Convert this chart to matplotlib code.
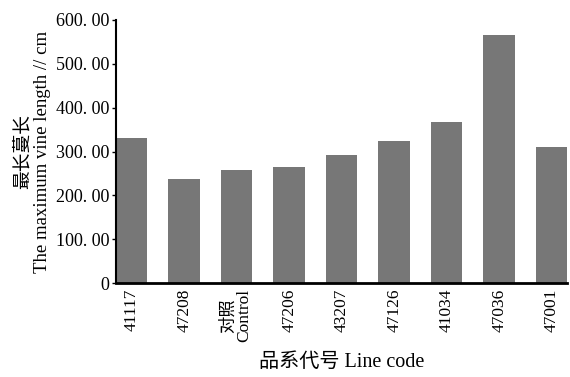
import matplotlib
matplotlib.use('Agg')
import matplotlib.pyplot as plt

plt.rcParams['font.family'] = ['Liberation Serif', 'Noto Sans CJK SC', 'DejaVu Sans']

# 品系代号 / 最长蔓长 (cm)
lines = ['41117', '47208', '对照\nControl', '47206', '43207', '47126', '41034', '47036', '47001']
vine_len = [331, 237, 259, 265, 293, 324, 367, 565, 310]
yticks = [0, 100, 200, 300, 400, 500, 600]
ytick_labels = ['0', '100. 00', '200. 00', '300. 00', '400. 00', '500. 00', '600. 00']

fig = plt.figure(figsize=(5.7, 3.77), dpi=100)
ax = fig.add_axes([0.2035, 0.249, 0.792, 0.698])

x = list(range(len(lines)))
ax.bar(x, vine_len, width=0.6, color='#777777', edgecolor='none')

ax.set_xlim(-0.3, len(lines) - 0.7)
ax.set_ylim(0, 600)
ax.set_yticks(yticks)
ax.set_yticklabels(ytick_labels, fontsize=13)
ax.set_xticks(x)
ax.set_xticklabels(lines, rotation=90, fontsize=12.5, linespacing=0.95)
ax.tick_params(axis='x', length=0, pad=4)
ax.tick_params(axis='y', direction='out', length=3, width=1, pad=2)

ax.spines['top'].set_visible(False)
ax.spines['right'].set_visible(False)
ax.spines['left'].set_linewidth(1.5)
ax.spines['bottom'].set_linewidth(2)

ax.set_ylabel('最长蔓长\nThe maximum vine length // cm', fontsize=13.5, linespacing=1.2, labelpad=3)
ax.set_xlabel('品系代号 Line code', fontsize=14.5, labelpad=8)

fig.savefig('out.png', dpi=100)
